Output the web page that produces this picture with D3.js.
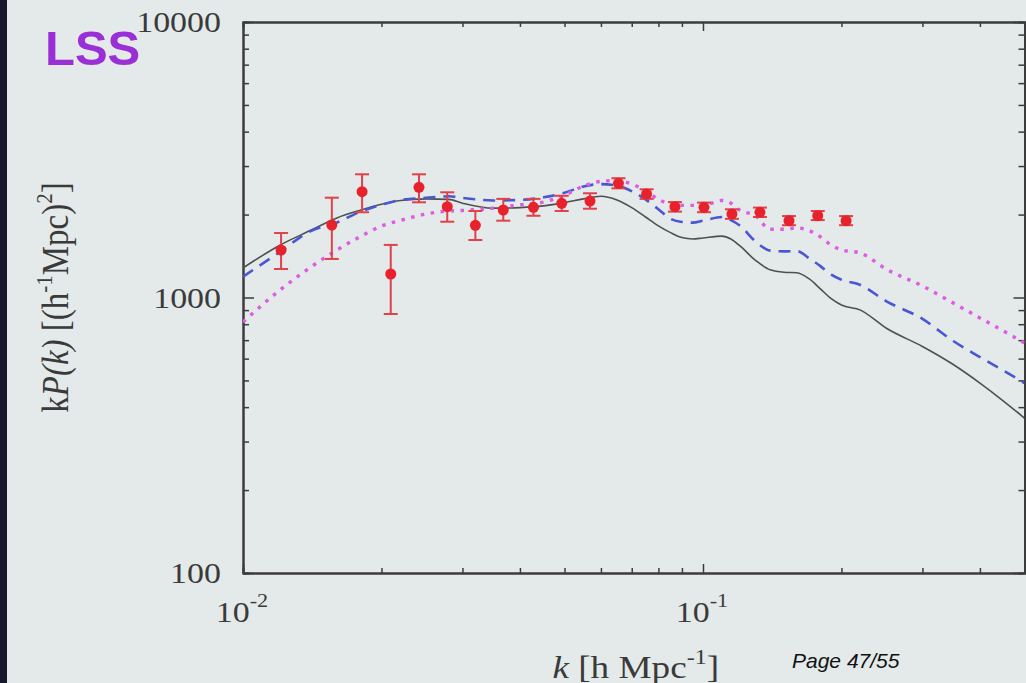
<!DOCTYPE html>
<html>
<head>
<meta charset="utf-8">
<script src="https://cdn.jsdelivr.net/npm/d3@7"></script>
<style>
  html, body { margin: 0; padding: 0; background: #e4e9e9; overflow: hidden; }
  .axis path, .axis line { stroke: #3c3c3c; }
  .axis path { stroke-width: 2; }
  .axis line { stroke-width: 1.5; }
  .lbl { font-family: 'Liberation Serif', 'DejaVu Serif', serif; fill: #3a3a3a; }
</style>
</head>
<body>
<div id="chart"></div>
<script>
const dataK = [0.0121, 0.0156, 0.01815, 0.02095, 0.02413, 0.0278, 0.032, 0.0368, 0.0428, 0.0493, 0.0568, 0.0655, 0.0754, 0.0869, 0.1005, 0.1156, 0.133, 0.1538, 0.1776, 0.2047]
const dataP = [1486, 1833, 2421, 1217, 2512, 2136, 1828, 2078, 2125, 2198, 2240, 2597, 2375, 2136, 2125, 2010, 2038, 1901, 1982, 1901]
const dataLo = [1269, 1380, 2039, 871, 2216, 1884, 1617, 1900, 1980, 2060, 2100, 2490, 2280, 2050, 2040, 1930, 1960, 1830, 1910, 1830]
const dataHi = [1714, 2303, 2800, 1552, 2800, 2409, 2060, 2280, 2280, 2340, 2390, 2710, 2470, 2220, 2210, 2090, 2120, 1975, 2060, 1975]

const modelK = [0.010, 0.012, 0.014, 0.016, 0.018, 0.020, 0.022, 0.025, 0.028, 0.030, 0.035, 0.040, 0.045, 0.050, 0.055, 0.060, 0.065, 0.070, 0.075, 0.080, 0.085, 0.090, 0.095, 0.100, 0.110, 0.115, 0.120, 0.130, 0.140, 0.150, 0.160, 0.170, 0.180, 0.190, 0.200, 0.220, 0.250, 0.300, 0.350, 0.400, 0.450, 0.500]
const solidP = [1280, 1545, 1750, 1945, 2075, 2180, 2250, 2280, 2270, 2200, 2110, 2120, 2150, 2210, 2280, 2330, 2260, 2120, 1960, 1820, 1720, 1650, 1630, 1645, 1670, 1630, 1545, 1365, 1260, 1235, 1230, 1170, 1075, 990, 939, 900, 775, 664, 571, 489, 421, 365]
const dashedP = [1190, 1460, 1740, 1870, 2050, 2170, 2260, 2300, 2330, 2300, 2250, 2260, 2310, 2400, 2530, 2580, 2550, 2430, 2270, 2090, 1930, 1880, 1870, 1900, 1960, 1910, 1830, 1600, 1480, 1470, 1475, 1390, 1300, 1210, 1160, 1110, 971, 836, 695, 608, 543, 489]
const dottedP = [815, 1060, 1285, 1487, 1665, 1818, 1904, 2010, 2060, 2070, 2110, 2170, 2220, 2350, 2540, 2640, 2660, 2580, 2440, 2270, 2180, 2160, 2160, 2160, 2250, 2200, 2080, 1980, 1770, 1770, 1790, 1750, 1660, 1550, 1490, 1450, 1269, 1101, 955, 843, 756, 684]

const kMajor = [0.01, 0.1]
const kMinor = [0.02, 0.03, 0.04, 0.05, 0.06, 0.07, 0.08, 0.09, 0.2, 0.3, 0.4]
const kLabels = ['-2', '-1']
const pMajor = [100, 1000, 10000]
const pMinor = [200, 300, 400, 500, 600, 700, 800, 900, 2000, 3000, 4000, 5000, 6000, 7000, 8000, 9000]

const W = 1026
const H = 683
const margin = { top: 22, right: 1.5, bottom: 110, left: 243 }
const width = W - margin.left - margin.right
const height = H - margin.top - margin.bottom

const x = d3.scaleLog().domain([0.01, 0.5]).range([0, width])
const y = d3.scaleLog().domain([100, 10000]).range([height, 0])

const svg = d3.select('#chart').append('svg')
  .attr('width', W)
  .attr('height', H)

svg.append('rect').attr('width', W).attr('height', H).attr('fill', '#e4e9e9')
// dark edge of the projector frame
svg.append('rect').attr('width', 7).attr('height', H).attr('fill', '#17172e')

const g = svg.append('g')
  .attr('transform', 'translate(' + margin.left + ',' + margin.top + ')')

g.append('clipPath').attr('id', 'clip')
  .append('rect').attr('width', width).attr('height', height)

// minor ticks first, then major ticks with the frame
g.append('g').attr('class', 'axis').attr('transform', 'translate(0,' + height + ')')
  .call(d3.axisBottom(x).tickValues(kMinor).tickSize(-5).tickFormat(''))
g.append('g').attr('class', 'axis')
  .call(d3.axisTop(x).tickValues(kMinor).tickSize(-5).tickFormat(''))
g.append('g').attr('class', 'axis')
  .call(d3.axisLeft(y).tickValues(pMinor).tickSize(-6).tickFormat(''))
g.append('g').attr('class', 'axis').attr('transform', 'translate(' + width + ',0)')
  .call(d3.axisRight(y).tickValues(pMinor).tickSize(-6).tickFormat(''))

g.append('g').attr('class', 'axis').attr('transform', 'translate(0,' + height + ')')
  .call(d3.axisBottom(x).tickValues(kMajor).tickSize(-9).tickSizeOuter(0).tickFormat(''))
g.append('g').attr('class', 'axis')
  .call(d3.axisTop(x).tickValues(kMajor).tickSize(-9).tickSizeOuter(0).tickFormat(''))
g.append('g').attr('class', 'axis')
  .call(d3.axisLeft(y).tickValues(pMajor).tickSize(-11).tickSizeOuter(0).tickFormat(''))
g.append('g').attr('class', 'axis').attr('transform', 'translate(' + width + ',0)')
  .call(d3.axisRight(y).tickValues(pMajor).tickSize(-11).tickSizeOuter(0).tickFormat(''))

// y tick labels
g.selectAll('.ylab')
  .data(pMajor)
  .enter().append('text')
  .attr('class', 'lbl')
  .attr('transform', d => 'translate(-22,' + (y(d) + 10) + ') scale(1.17,1)')
  .attr('text-anchor', 'end')
  .style('font-size', '29px')
  .text(d => d)

// x tick labels 10^-2, 10^-1
const xl = g.selectAll('.xlab')
  .data(kMajor)
  .enter().append('text')
  .attr('class', 'lbl')
  .attr('transform', d => 'translate(' + (x(d) - 1) + ',' + (height + 49) + ') scale(1.17,1)')
  .attr('text-anchor', 'middle')
  .style('font-size', '29px')
xl.append('tspan').text('10')
xl.append('tspan').attr('dy', -15).style('font-size', '19px').text((d, i) => kLabels[i])

// axis titles
const xt = g.append('text')
  .attr('class', 'lbl')
  .attr('transform', 'translate(' + (width / 2 + 2) + ',' + (height + 105) + ') scale(1.2,1)')
  .attr('text-anchor', 'middle')
  .style('font-size', '31px')
xt.append('tspan').style('font-style', 'italic').text('k')
xt.append('tspan').text(' [h Mpc')
xt.append('tspan').attr('dy', -14).style('font-size', '20px').text('-1')
xt.append('tspan').attr('dy', 14).text(']')

const yt = svg.append('text')
  .attr('class', 'lbl')
  .attr('transform', 'translate(68,' + (margin.top + height / 2) + ') rotate(-90) scale(1,1.12)')
  .attr('text-anchor', 'middle')
  .style('font-size', '33px')
yt.append('tspan').text('k')
yt.append('tspan').style('font-style', 'italic').text('P(k)')
yt.append('tspan').text(' [(h')
yt.append('tspan').attr('dy', -14).style('font-size', '21px').text('-1')
yt.append('tspan').attr('dy', 14).text('Mpc)')
yt.append('tspan').attr('dy', -14).style('font-size', '21px').text('2')
yt.append('tspan').attr('dy', 14).text(']')

// model curves
const curves = [
  { values: solidP, color: '#505050', w: 1.6, dash: null },
  { values: dashedP, color: '#4a56d2', w: 2.6, dash: '12,8' },
  { values: dottedP, color: '#de5ce2', w: 3.4, dash: '3.5,6.5' }
]
const plot = g.append('g').attr('clip-path', 'url(#clip)')
curves.forEach(c => {
  const line = d3.line()
    .x((d, i) => x(modelK[i]))
    .y(d => y(d))
    .curve(d3.curveMonotoneX)
  plot.append('path')
    .datum(c.values)
    .attr('fill', 'none')
    .attr('stroke', c.color)
    .attr('stroke-width', c.w)
    .attr('stroke-dasharray', c.dash)
    .attr('d', line)
})

// data points with error bars
const pts = g.selectAll('.pt')
  .data(dataK.map((k, i) => ({ k, p: dataP[i], lo: dataLo[i], hi: dataHi[i] })))
  .enter().append('g')
  .attr('class', 'pt')
pts.append('line')
  .attr('x1', d => x(d.k)).attr('x2', d => x(d.k))
  .attr('y1', d => y(d.lo)).attr('y2', d => y(d.hi))
pts.append('line')
  .attr('x1', d => x(d.k) - 7).attr('x2', d => x(d.k) + 7)
  .attr('y1', d => y(d.lo)).attr('y2', d => y(d.lo))
pts.append('line')
  .attr('x1', d => x(d.k) - 7).attr('x2', d => x(d.k) + 7)
  .attr('y1', d => y(d.hi)).attr('y2', d => y(d.hi))
pts.selectAll('line').attr('stroke', '#e0414a').attr('stroke-width', 2)
pts.append('circle')
  .attr('cx', d => x(d.k))
  .attr('cy', d => y(d.p))
  .attr('r', 5.5)
  .attr('fill', '#e8222c')

// slide decorations
svg.append('text')
  .attr('x', 45).attr('y', 65)
  .style('font-family', "'Liberation Sans', Arial, sans-serif")
  .style('font-weight', 'bold')
  .style('font-size', '49px')
  .attr('fill', '#9a2fd6')
  .text('LSS')

svg.append('text')
  .attr('x', 792).attr('y', 668)
  .style('font-family', "'Liberation Sans', Arial, sans-serif")
  .style('font-style', 'italic')
  .style('font-size', '21px')
  .attr('fill', '#111')
  .text('Page 47/55')
</script>
</body>
</html>
